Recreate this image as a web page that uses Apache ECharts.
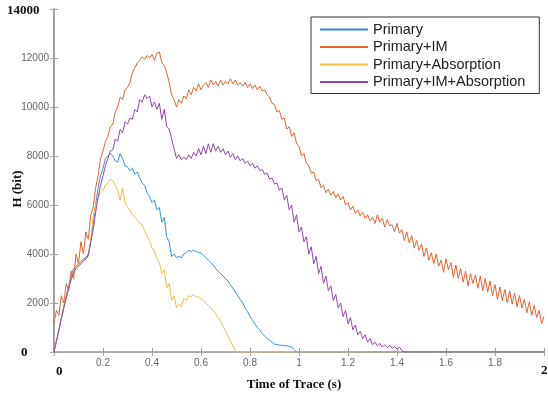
<!DOCTYPE html>
<html>
<head>
<meta charset="utf-8">
<script src="https://cdn.jsdelivr.net/npm/echarts@6/dist/echarts.min.js"></script>
<style>
  html, body { margin: 0; padding: 0; background: #fff; }
  #chart { width: 548px; height: 394px; }
</style>
</head>
<body>
<div id="chart"></div>
<script>
// samples every tStep seconds starting at t = 0
const tStep = 0.01;
const traceEnd = 2;

const primary = [
  0, 450, 900, 1400, 1850, 2300, 2700, 3100, 3400, 3500,
  3600, 3700, 3800, 3850, 4000, 4500, 5200, 6000, 6700, 7200,
  7500, 7900, 8000, 8100, 8000, 7800, 7750, 8100, 7900, 7600,
  7550, 7400, 7500, 7250, 7350, 7100, 6900, 6800, 6500, 6350,
  6100, 6200, 5800, 5900, 5300, 5500, 4700, 4500, 3900, 4000,
  3850, 3900, 3850, 4000, 4050, 4150, 4100, 4150, 4100, 4050,
  4050, 3950, 3850, 3750, 3650, 3550, 3400, 3300, 3200, 3100,
  3000, 2900, 2750, 2600, 2450, 2300, 2150, 2000, 1800, 1650,
  1450, 1300, 1150, 1000, 900, 750, 650, 550, 480, 400,
  320, 300, 280, 270, 260, 250, 230, 200, 100, 0
];

const primaryIM = [
  1200, 1700, 1500, 2300, 2000, 2800, 2500, 3300, 3000, 4000,
  3600, 4500, 4000, 4900, 4600, 5600, 5900, 6700, 7200, 7900,
  8200, 8600, 8800, 9200, 9300, 9800, 10000, 10400, 10300, 10700,
  10800, 11000, 11400, 11600, 11800, 11900, 12050, 11950, 12100, 12000,
  12150, 11900, 12200, 12250, 11800, 11700, 11400, 11000, 10500, 10300,
  10000, 10300, 10150, 10450, 10350, 10700, 10500, 10800, 10650, 10950,
  10700, 10900, 11000, 10800, 11100, 10900, 11050, 10850, 11100, 10900,
  11050, 10950, 11150, 10950, 11100, 10900, 11000, 10850, 11000, 10800,
  10950, 10750, 10900, 10700, 10850, 10650, 10700, 10500, 10400, 10150,
  10100, 9800, 9850, 9500, 9550, 9100, 9200, 8800, 8950, 8500,
  8400, 8000, 8100, 7700, 7600, 7300, 7350, 7000, 7050, 6700,
  6800, 6500, 6650, 6400, 6550, 6300, 6450, 6200, 6350, 6000,
  6100, 5800, 5950, 5650, 5800, 5550, 5700, 5450, 5600, 5350,
  5500, 5250, 5600, 5300, 5450, 5100, 5400, 5150, 5200, 4900,
  5250, 4850, 5000, 4550, 4900, 4450, 4750, 4250, 4550, 4150,
  4400, 3900, 4250, 3750, 4050, 3600, 4000, 3500, 3750, 3250,
  3800, 3350, 3650, 3050, 3550, 3000, 3400, 2850, 3300, 2700,
  3200, 2800, 3150, 2600, 3100, 2500, 3000, 2450, 2900, 2300,
  2750, 2150, 2650, 2100, 2550, 2000, 2500, 1950, 2400, 1850,
  2300, 1800, 2150, 1600, 2050, 1500, 1900, 1400, 1700, 1150,
  1450
];

const primaryAbs = [
  0, 450, 900, 1350, 1800, 2250, 2650, 3000, 3300, 3450,
  3550, 3650, 3750, 3800, 3900, 4600, 5500, 6000, 6300, 6500,
  6600, 6800, 6900, 7050, 7000, 6800, 6600, 6200, 6700, 6100,
  5900, 5800, 5600, 5500, 5400, 5250, 5200, 4950, 4700, 4550,
  4250, 4100, 3800, 3650, 3200, 3350, 2600, 2800, 2100, 2300,
  1800, 1950, 1850, 2200, 2100, 2300, 2250, 2350, 2250, 2250,
  2150, 2100, 2000, 1900, 1800, 1700, 1550, 1400, 1250, 1050,
  850, 650, 450, 250, 50, 0
];

const primaryIMAbs = [
  0, 450, 900, 1350, 1800, 2200, 2600, 2950, 3250, 3400,
  3500, 3600, 3700, 3800, 3950, 4500, 5000, 5700, 6300, 6800,
  7200, 7600, 7900, 8200, 8250, 8700, 8600, 9100, 8950, 9400,
  9300, 9550, 9500, 9900, 9800, 10300, 10200, 10500, 10350, 10450,
  10000, 10200, 9900, 10150, 9500, 9900, 9200, 9100, 8700, 8300,
  7900, 8050, 7850, 7950, 7850, 8050, 7900, 8150, 8000, 8300,
  8050, 8400, 8100, 8500, 8150, 8500, 8200, 8400, 8150, 8300,
  8050, 8200, 7950, 8100, 7850, 8000, 7800, 7900, 7700, 7800,
  7600, 7700, 7500, 7600, 7400, 7450, 7250, 7300, 7050, 7100,
  6850, 6900, 6600, 6700, 6200, 6400, 5800, 6000, 5300, 5600,
  4900, 5100, 4500, 4700, 4000, 4300, 3600, 3900, 3200, 3500,
  2800, 3100, 2500, 2700, 2100, 2350, 1800, 2000, 1450, 1700,
  1150, 1400, 900, 1100, 700, 850, 550, 700, 400, 550,
  300, 400, 250, 350, 200, 300, 180, 250, 150, 220,
  120, 200, 60, 0
];

const seriesNames = ['Primary', 'Primary+IM', 'Primary+Absorption', 'Primary+IM+Absorption'];
const seriesColors = ['#3590d8', '#e0652f', '#efbd48', '#9248a8'];
const xTicks = [0.2, 0.4, 0.6, 0.8, 1, 1.2, 1.4, 1.6, 1.8];

function toPoints(values) {
  const pts = values.map((v, i) => [+(i * tStep).toFixed(2), v]);
  const last = pts[pts.length - 1];
  if (last[0] < traceEnd) pts.push([traceEnd, 0]);
  return pts;
}

const chart = echarts.init(document.getElementById('chart'), null, { renderer: 'canvas' });

const serif = "'Liberation Serif', 'Times New Roman', serif";
const sans = "'Liberation Sans', Arial, sans-serif";
const frame = '#9a9a9a';

chart.setOption({
  animation: false,
  backgroundColor: '#fff',
  grid: { left: 54, right: 4, top: 9, bottom: 42 },
  legend: {
    orient: 'vertical',
    left: 311,
    top: 17,
    padding: [5, 14, 4, 9],
    itemGap: 2.5,
    itemWidth: 48,
    itemHeight: 2,
    icon: 'rect',
    backgroundColor: '#fff',
    borderColor: '#333',
    borderWidth: 1,
    borderRadius: 0,
    textStyle: { fontFamily: sans, fontSize: 14.5, lineHeight: 14.5, color: '#222' },
    data: seriesNames
  },
  xAxis: [
    {
      type: 'value', min: 0, max: 2, interval: 0.2,
      axisLine: { lineStyle: { color: frame, width: 1.5 } },
      axisTick: { inside: true, length: 4, lineStyle: { color: frame } },
      splitLine: { show: false },
      axisLabel: {
        margin: 6, fontFamily: sans, fontSize: 10, color: '#666',
        formatter: v => (xTicks.some(t => Math.abs(t - v) < 1e-6) ? String(+v.toFixed(1)) : '')
      }
    },
    {
      type: 'value', position: 'top', min: 0, max: 2, interval: 0.2,
      axisLine: { show: true, lineStyle: { color: '#aaa', width: 1 } },
      axisTick: { inside: true, length: 4, lineStyle: { color: '#aaa' } },
      axisLabel: { show: false },
      splitLine: { show: false }
    }
  ],
  yAxis: [
    {
      type: 'value', min: 0, max: 14000, interval: 2000,
      axisLine: { show: true, lineStyle: { color: frame, width: 2 } },
      axisTick: { show: true, inside: true, length: 4, lineStyle: { color: frame } },
      splitLine: { show: false },
      axisLabel: {
        margin: 5, fontFamily: sans, fontSize: 10, color: '#666',
        formatter: v => (v === 0 || v === 14000 ? '' : String(v))
      }
    },
    {
      type: 'value', position: 'right', min: 0, max: 14000, interval: 2000,
      axisLine: { show: true, lineStyle: { color: '#aaa', width: 1 } },
      axisTick: { show: true, inside: true, length: 4, lineStyle: { color: '#aaa' } },
      axisLabel: { show: false },
      splitLine: { show: false }
    }
  ],
  series: [primary, primaryIM, primaryAbs, primaryIMAbs].map((vals, i) => ({
    name: seriesNames[i],
    type: 'line',
    data: toPoints(vals),
    symbol: 'none',
    showSymbol: false,
    color: seriesColors[i],
    lineStyle: { width: 1, color: seriesColors[i] },
    z: 3
  })),
  graphic: [
    { type: 'text', left: 7, top: 4, style: { text: '14000', font: 'bold 13px ' + serif, fill: '#111' } },
    { type: 'text', left: 21, top: 346, style: { text: '0', font: 'bold 13px ' + serif, fill: '#111' } },
    { type: 'text', left: 56, top: 365, style: { text: '0', font: 'bold 13px ' + serif, fill: '#111' } },
    { type: 'text', left: 541, top: 364, style: { text: '2', font: 'bold 13px ' + serif, fill: '#111' } },
    {
      type: 'text', x: 18, y: 189, rotation: Math.PI / 2,
      style: { text: 'H (bit)', font: 'bold 13px ' + serif, fill: '#111', align: 'center', verticalAlign: 'middle' }
    },
    {
      type: 'text', x: 294, y: 385,
      style: { text: 'Time of Trace (s)', font: 'bold 13px ' + serif, fill: '#111', align: 'center', verticalAlign: 'middle' }
    }
  ]
});
</script>
</body>
</html>
